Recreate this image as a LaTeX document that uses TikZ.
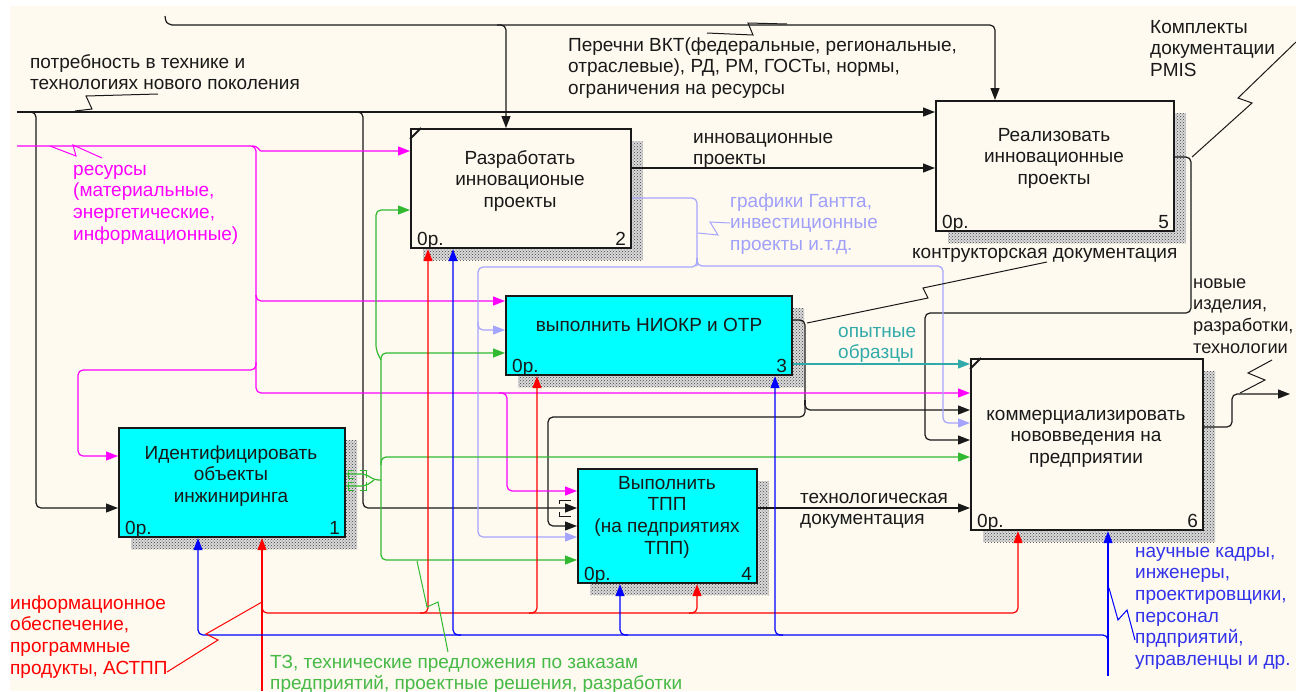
\documentclass[tikz,border=0pt]{standalone}
\usepackage{fontspec}
\setmainfont{Liberation Sans}
\usetikzlibrary{arrows.meta,patterns,shadows}
\definecolor{paper}{RGB}{254,250,239}
\definecolor{boxcyan}{RGB}{0,255,255}
\definecolor{ink}{RGB}{25,25,25}
\definecolor{cmag}{RGB}{255,0,255}
\definecolor{cgreen}{RGB}{50,185,50}
\definecolor{cred}{RGB}{255,0,0}
\definecolor{cblue}{RGB}{0,0,255}
\definecolor{clav}{RGB}{165,165,255}
\definecolor{cteal}{RGB}{50,170,170}
\definecolor{tgreen}{RGB}{70,185,70}
\definecolor{tblue}{RGB}{50,50,235}
\definecolor{tlav}{RGB}{160,160,250}
\newcommand{\fst}{\rule{0pt}{15pt}}
\begin{document}
\begin{tikzpicture}[x=1pt,y=-1pt,
  font=\fontsize{19}{21.6}\selectfont,
  fn/.style={draw=ink, line width=2.2pt, inner sep=0pt, anchor=north west,
    general shadow={shadow xshift=12pt, shadow yshift=-12pt, fill=black!15,
      postaction={pattern=crosshatch dots, pattern color=black!75}}},
  lab/.style={anchor=north west, inner sep=0pt, align=left, text=ink},
  ttl/.style={anchor=north, inner sep=0pt, align=center, text=ink},
  zero/.style={anchor=base west, inner sep=0pt, text=ink},
  num/.style={anchor=base east, inner sep=0pt, text=ink},
  wire/.style={line width=1.2pt, rounded corners=5pt},
  arr/.style={wire, -{Triangle[length=12pt,width=9pt]}},
  bolt/.style={line width=1pt},
  tick/.style={draw=ink, line width=2pt}
]
% sheet
\fill[white] (0,0) rectangle (1296,691);
\fill[paper] (10,6) rectangle (1296,691);
\useasboundingbox (0,0) rectangle (1296,691);

% function boxes
\node[fn, fill=paper,   minimum width=220pt, minimum height=119pt] (b2) at (410,128) {};
\node[fn, fill=paper,   minimum width=238pt, minimum height=130pt] (b5) at (935,100) {};
\node[fn, fill=boxcyan, minimum width=286pt, minimum height=79pt]  (b3) at (505,295) {};
\node[fn, fill=paper,   minimum width=232pt, minimum height=171pt] (b6) at (970,358) {};
\node[fn, fill=boxcyan, minimum width=226pt, minimum height=109pt] (b1) at (118,427) {};
\node[fn, fill=boxcyan, minimum width=179pt, minimum height=114pt] (b4) at (577,468) {};

\draw[tick] ([yshift=-11pt]b2.north west) -- ([xshift=11pt]b2.north west);
\draw[tick] ([yshift=-11pt]b6.north west) -- ([xshift=11pt]b6.north west);

% box titles
\node[ttl] (b2t) at (520,149) {\fst Разработать\\инновационые\\проекты};
\node[ttl] (b5t) at (1054,126) {\fst Реализовать\\инновационные\\проекты};
\node[ttl] (b3t) at (649,316) {\fst выполнить НИОКР и ОТР};
\node[ttl] (b6t) at (1086,405) {\fst коммерциализировать\\нововведения на\\предприятии};
\node[ttl] (b1t) at (231,444) {\fst Идентифицировать\\объекты\\инжиниринга};
\node[ttl] (b4t) at (667,474) {\fst Выполнить\\ТПП\\(на педприятиях\\ТПП)};

% cost and number corners
\foreach \b/\n in {b1/1,b2/2,b3/3,b4/4,b5/5,b6/6}{
  \node[zero] (\b z) at ([shift={(7pt,4pt)}]\b.south west) {0р.};
  \node[num]  (\b n) at ([shift={(-6pt,4pt)}]\b.south east) {\n};
}

% ---- black arrows ----
\coordinate (ktop) at (172,25);
\draw[line width=1.2pt, ink] (165,16) .. controls (166,23) .. (ktop);
\draw[arr,ink] (ktop) -- (995,25) -- (b5.north -| 995,0);
\draw[arr,ink] (497,25) -- (506,25) -- (b2.north -| 506,0);
\coordinate (kin) at (17,112);
\draw[arr,ink] (kin) -- (b5.west |- 0,112);
\draw[arr,ink] (28,112) -- (36,112) -- (36,508) -- (b1.west |- 0,508);
\draw[arr,ink] (355,112) -- (363,112) -- (363,508) -- (b4.west |- 0,508);
\draw[arr,ink] (b2.east |- 0,168) -- (b5.west |- 0,168);
\draw[arr,ink] (b5.east |- 0,157) -- (1191,157) -- (1191,313) -- (925,313) -- (925,440) -- (b6.west |- 0,440);
\draw[wire,ink] (b3.east |- 0,320) -- (805,320) -- (805,405);
\draw[arr,ink] (805,400) -- (805,410) -- (b6.west |- 0,410);
\draw[arr,ink] (805,400) -- (805,417) -- (548,417) -- (548,526) -- (b4.west |- 0,526);
\draw[arr,ink] (b4.east |- 0,508) -- (b6.west |- 0,508);
\coordinate (kout) at (1290,394);
\draw[arr,ink] (b6.east |- 0,427) -- (1232,427) -- (1232,394) -- (kout);
\draw[ink, line width=1pt] (571,500) -- (559,500) -- (559,504) (559,512) -- (559,516) -- (571,516);

% ---- magenta arrows ----
\coordinate (min) at (17,146);
\draw[arr,cmag] (min) -- (256,146) -- (256,393) -- (b6.west |- 0,393);
\draw[arr,cmag] (252,146) .. controls (259,146) and (259,151) .. (266,151) -- (b2.west |- 0,151);
\draw[arr,cmag] (256,295) -- (256,301) -- (b3.west |- 0,301);
\draw[arr,cmag] (256,362) -- (256,370) -- (78,370) -- (78,456) -- (b1.west |- 0,456);
\draw[arr,cmag] (499,393) -- (507,393) -- (507,491) -- (b4.west |- 0,491);

% ---- lavender arrows ----
\draw[wire,clav] (b2.east |- 0,198) -- (697,198) -- (697,266);
\draw[arr,clav] (697,258) -- (697,267) -- (478,267) -- (478,330) -- (b3.west |- 0,330);
\draw[arr,clav] (478,322) -- (478,537) -- (b4.west |- 0,537);
\draw[arr,clav] (697,258) -- (697,266) -- (943,266) -- (943,423) -- (b6.west |- 0,423);

% ---- teal arrow ----
\draw[arr,cteal] (b3.east |- 0,364) -- (b6.west |- 0,364);

% ---- green arrows ----
\draw[wire,cgreen] (b1.east |- 0,474) -- (366,474) -- (374,480) -- (381,480);
\draw[wire,cgreen] (b1.east |- 0,486) -- (366,486) -- (374,480);
\draw[cgreen, line width=1pt] (354,470) -- (348,470) -- (348,478) -- (354,478)
  (354,482) -- (348,482) -- (348,490) -- (354,490)
  (360,470) -- (366,470) -- (366,478) (360,490) -- (366,490) -- (366,482);
\draw[arr,cgreen] (381,480) -- (381,353) -- (b3.west |- 0,353);
\draw[arr,cgreen] (381,360) -- (376,350) -- (376,210) -- (b2.west |- 0,210);
\draw[arr,cgreen] (381,465) -- (381,457) -- (b6.west |- 0,457);
\draw[arr,cgreen] (381,480) -- (381,560) -- (b4.west |- 0,560);

% ---- red arrows ----
\coordinate (rin) at (262,691);
\draw[arr,cred] (rin) -- (b1.south -| 262,0);
\draw[arr,cred] (262,606) -- (262,613) -- (1018,613) -- (b6.south -| 1018,0);
\draw[arr,cred] (420,613) -- (428,613) -- (b2.south -| 428,0);
\draw[arr,cred] (529,613) -- (537,613) -- (b3.south -| 537,0);
\draw[arr,cred] (689,613) -- (697,613) -- (b4.south -| 697,0);

% ---- blue arrows ----
\coordinate (bin) at (1108,676);
\draw[arr,cblue] (bin) -- (b6.south -| 1108,0);
\draw[arr,cblue] (1108,645) -- (1108,635) -- (198,635) -- (b1.south -| 198,0);
\draw[arr,cblue] (461,635) -- (453,635) -- (b2.south -| 453,0);
\draw[arr,cblue] (628,635) -- (620,635) -- (b4.south -| 620,0);
\draw[arr,cblue] (783,635) -- (775,635) -- (b3.south -| 775,0);

% ---- label leaders ----
\draw[bolt,ink] (707,33) -- (753,35) -- (748,23) -- (787,24);
\draw[bolt,ink] (75,111) -- (92,109) -- (86,96) -- (158,94);
\draw[bolt,cmag] (50,146) -- (76,156) -- (73,145) -- (102,158);
\draw[bolt,ink] (1192,157) -- (1252,103) -- (1238,98) -- (1296,42);
\draw[bolt,ink] (807,323) -- (928,298) -- (923,288) -- (1047,262);
\draw[bolt,clav] (698,233) -- (718,235) -- (710,222) -- (730,223);
\draw[bolt,ink] (1240,393) -- (1265,380) -- (1248,373) -- (1272,360);
\draw[bolt,cgreen] (417,561) -- (427,607) -- (438,602) -- (448,652);
\draw[bolt,cred] (167,672) -- (218,640) -- (206,634) -- (262,602);
\draw[bolt,cblue] (1109,588) -- (1118,620) -- (1127,610) -- (1135,640);

% ---- labels ----
\node[lab] (t1) at (30,53) {\fst потребность в технике и\\технологиях нового поколения};
\node[lab, text=cmag] (t2) at (73,160) {\fst ресурсы\\(материальные,\\энергетические,\\информационные)};
\node[lab] (t3) at (568,36) {\fst Перечни ВКТ(федеральные, региональные,\\отраслевые), РД, РМ, ГОСТы, нормы,\\ограничения на ресурсы};
\node[lab] (t4) at (1150,18) {\fst Комплекты\\документации\\PMIS};
\node[lab] (t5) at (693,128) {\fst инновационные\\проекты};
\node[lab, text=tlav] (t6) at (730,192) {\fst графики Гантта,\\инвестиционные\\проекты и.т.д.};
\node[lab] (t7) at (912,243) {\fst контрукторская документация};
\node[lab, font=\fontsize{18.2}{21.6}\selectfont] (t8) at (1193,273) {\fst новые\\изделия,\\разработки,\\технологии};
\node[lab, text=cteal] (t9) at (838,322) {\fst опытные\\образцы};
\node[lab] (t10) at (800,488) {\fst технологическая\\документация};
\node[lab, text=cred] (t11) at (10,594) {\fst информационное\\обеспечение,\\программные\\продукты, АСТПП};
\node[lab, text=tgreen] (t12) at (270,653) {\fst ТЗ, технические предложения по заказам\\предприятий, проектные решения, разработки};
\node[lab, text=tblue] (t13) at (1135,542) {\fst научные кадры,\\инженеры,\\проектировщики,\\персонал\\прдприятий,\\управленцы и др.};
\end{tikzpicture}
\end{document}
